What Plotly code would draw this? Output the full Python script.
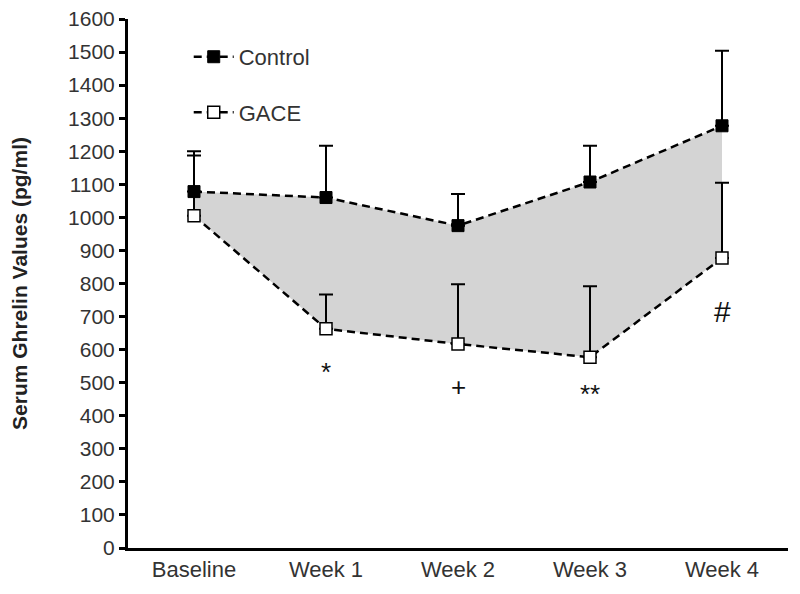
import plotly.graph_objects as go

categories = ["Baseline", "Week 1", "Week 2", "Week 3", "Week 4"]
control = [1078, 1060, 975, 1107, 1277]
control_err = [122, 157, 96, 110, 227]
gace = [1005, 663, 617, 577, 877]
gace_err = [182, 104, 181, 215, 228]
sig_labels = ["", "*", "+", "**", "#"]
sig_y = [None, 532, 487, 466, 716]

xs = list(range(len(categories)))

fig = go.Figure()
# shaded area between series
fig.add_trace(go.Scatter(x=xs, y=control, mode="lines", line=dict(width=0, color="rgba(0,0,0,0)"),
                         showlegend=False, hoverinfo="skip"))
fig.add_trace(go.Scatter(x=xs, y=gace, mode="lines", line=dict(width=0, color="rgba(0,0,0,0)"),
                         fill="tonexty", fillcolor="#d4d4d4", showlegend=False, hoverinfo="skip"))

fig.add_trace(go.Scatter(
    x=xs, y=control, mode="lines+markers", name="Control", legendgroup="c",
    line=dict(color="black", width=2.5, dash="8px,5px"),
    marker=dict(symbol="square", size=12, color="black", line=dict(color="black", width=1)),
    error_y=dict(type="data", array=control_err, arrayminus=[0]*5, symmetric=False,
                 color="black", thickness=2, width=7),
))
fig.add_trace(go.Scatter(
    x=xs, y=gace, mode="lines+markers", name="GACE", legendgroup="g",
    line=dict(color="black", width=2.5, dash="8px,5px"),
    marker=dict(symbol="square", size=12, color="white", line=dict(color="black", width=1.5)),
    error_y=dict(type="data", array=gace_err, arrayminus=[0]*5, symmetric=False,
                 color="black", thickness=2, width=7),
))

for i, (lab, yy) in enumerate(zip(sig_labels, sig_y)):
    if lab:
        fig.add_annotation(x=xs[i], y=yy, text=lab, showarrow=False,
                           font=dict(size=30 if lab == "#" else 26, color="#111", family="Liberation Sans"))

fig.update_layout(
    width=800, height=594,
    margin=dict(l=120, r=20, t=11, b=54),
    plot_bgcolor="white", paper_bgcolor="white",
    font=dict(family="Liberation Sans, Arial", color="#333"),
    showlegend=True,
    legend=dict(x=0.092, y=0.968, xanchor="left", yanchor="top", bgcolor="rgba(0,0,0,0)",
                font=dict(size=22, color="#333"), tracegroupgap=24, itemwidth=40),
    xaxis=dict(range=[-0.5, 4.5], tickmode="array", tickvals=xs, ticktext=categories,
               showline=True, linecolor="black", linewidth=3, ticks="", showgrid=False,
               zeroline=False, tickfont=dict(size=22, color="#333"), automargin=False,
               ticklabeloverflow="allow"),
    yaxis=dict(range=[0, 1600], dtick=100, tick0=0, showline=True, linecolor="black", linewidth=3,
               ticks="outside", ticklen=6, tickwidth=2.5, tickcolor="black", showgrid=False, zeroline=False,
               tickfont=dict(size=21, color="#333"), automargin=False, ticklabeloverflow="allow",
               title=dict(text="<b>Serum Ghrelin Values (pg/ml)</b>", font=dict(size=21, color="#222"), standoff=38)),
)

fig.write_html("out.html")
